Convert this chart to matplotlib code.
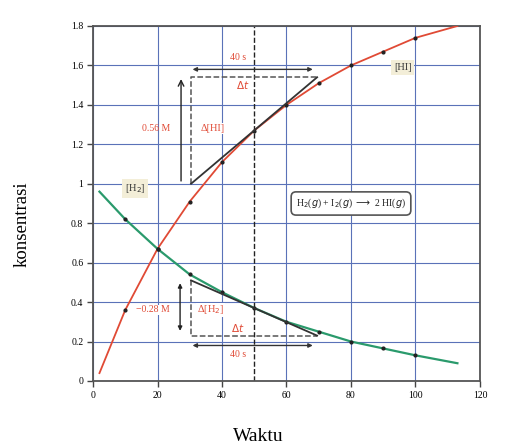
import matplotlib.pyplot as plt

plt.rcParams['font.family'] = ['Liberation Serif', 'DejaVu Serif']

# Data
t = [2, 10, 20, 30, 40, 50, 60, 70, 80, 90, 100, 113]
hi = [0.04, 0.36, 0.67, 0.91, 1.11, 1.27, 1.40, 1.51, 1.60, 1.67, 1.74, 1.80]
h2 = [0.96, 0.82, 0.67, 0.54, 0.45, 0.37, 0.30, 0.25, 0.20, 0.165, 0.13, 0.09]
t_dots = [10, 20, 30, 40, 50, 60, 70, 80, 90, 100]

xticks = [0, 20, 40, 60, 80, 100, 120]
yticks = [0, 0.2, 0.4, 0.6, 0.8, 1.0, 1.2, 1.4, 1.6, 1.8]
ylabels = ["0", "0.2", "0.4", "0.6", "0.8", "1", "1.2", "1.4", "1.6", "1.8"]

red = "#e04a35"
green = "#2a9a6c"
gridc = "#5a72b8"

fig = plt.figure(figsize=(5.24, 4.48), dpi=100)
ax = fig.add_axes([0.1775, 0.1496, 0.7385, 0.7924])

ax.plot(t, hi, color=red, lw=1.3, zorder=3)
ax.plot(t, h2, color=green, lw=1.6, zorder=3)
hi_d = [hi[t.index(x)] for x in t_dots]
h2_d = [h2[t.index(x)] for x in t_dots]
ax.plot(t_dots, hi_d, 'o', color='#222222', ms=2, zorder=4)
ax.plot(t_dots, h2_d, 'o', color='#222222', ms=2, zorder=4)

# vertical dashed line at t = 50
ax.plot([50, 50], [0, 1.8], color='#222222', ls='--', lw=1.0, zorder=2)

# HI tangent and triangle
ax.plot([30.4, 69.5], [1.0, 1.54], color='#333333', lw=1.3, zorder=4)
ax.plot([30.4, 30.4, 69.5], [1.0, 1.54, 1.54], color='#555555', ls='--', lw=1.1, zorder=2)
ax.annotate('', xy=(27.3, 1.545), xytext=(27.3, 1.0),
            arrowprops=dict(arrowstyle='->', color='#222222', lw=1.0))
ax.annotate('', xy=(30, 1.58), xytext=(69, 1.58),
            arrowprops=dict(arrowstyle='<|-|>', color='#333333', lw=1.0, mutation_scale=6))
ax.text(45, 1.64, "40 s", color=red, fontsize=7, ha='center', va='center')
ax.text(46.5, 1.5, r"$\Delta t$", color=red, fontsize=7.5, ha='center', va='center')
ax.text(19.5, 1.28, "0.56 M", color=red, fontsize=7, ha='center', va='center')
ax.text(37, 1.28, "Δ[HI]", color=red, fontsize=7.5, ha='center', va='center',
        bbox=dict(facecolor='white', edgecolor='none', pad=0.5))

# H2 tangent and triangle
ax.plot([30.4, 69.5], [0.51, 0.23], color='#333333', lw=1.3, zorder=4)
ax.plot([30.4, 30.4, 69.5], [0.51, 0.23, 0.23], color='#555555', ls='--', lw=1.1, zorder=2)
ax.annotate('', xy=(27.0, 0.24), xytext=(27.0, 0.51),
            arrowprops=dict(arrowstyle='<|-|>', color='#222222', lw=1.0, mutation_scale=6))
ax.annotate('', xy=(30, 0.18), xytext=(69, 0.18),
            arrowprops=dict(arrowstyle='<|-|>', color='#333333', lw=1.0, mutation_scale=6))
ax.text(45, 0.27, r"$\Delta t$", color=red, fontsize=7.5, ha='center', va='center')
ax.text(45, 0.135, "40 s", color=red, fontsize=7, ha='center', va='center',
        bbox=dict(facecolor='white', edgecolor='none', pad=0.3))
ax.text(18.5, 0.36, "−0.28 M", color=red, fontsize=7, ha='center', va='center',
        bbox=dict(facecolor='white', edgecolor='none', pad=0.3))
ax.text(36.5, 0.36, "Δ[H$_2$]", color=red, fontsize=7.5, ha='center', va='center',
        bbox=dict(facecolor='white', edgecolor='none', pad=0.5))

# series labels
ax.text(96, 1.59, "[HI]", color='#333333', fontsize=7.5, ha='center', va='center',
        bbox=dict(facecolor='#f3eed8', edgecolor='none', pad=2))
ax.text(13, 0.975, "[H$_2$]", color='#333333', fontsize=7.5, ha='center', va='center',
        bbox=dict(facecolor='#f3eed8', edgecolor='none', pad=2))

# reaction box
ax.text(80, 0.9, r"H$_2$($g$) + I$_2$($g$) $\longrightarrow$ 2 HI($g$)", color='#222222',
        fontsize=7, ha='center', va='center', zorder=5,
        bbox=dict(boxstyle='round,pad=0.5', facecolor='white', edgecolor='#555555', lw=1.2))

ax.set_xlim(0, 120)
ax.set_ylim(0, 1.8)
ax.set_xticks(xticks)
ax.set_yticks(yticks)
ax.set_yticklabels(ylabels)
ax.tick_params(labelsize=7, length=4, width=1, color='#444444', pad=3)
ax.grid(True, color=gridc, lw=0.8)
ax.set_axisbelow(True)
for s in ax.spines.values():
    s.set_color('#555555')
    s.set_linewidth(1.3)

fig.text(0.042, 0.5, "konsentrasi", rotation=90, fontsize=13.5, ha='center', va='center')
fig.text(0.492, 0.025, "Waktu", fontsize=14, ha='center', va='center')

fig.savefig("out.png", dpi=100)
